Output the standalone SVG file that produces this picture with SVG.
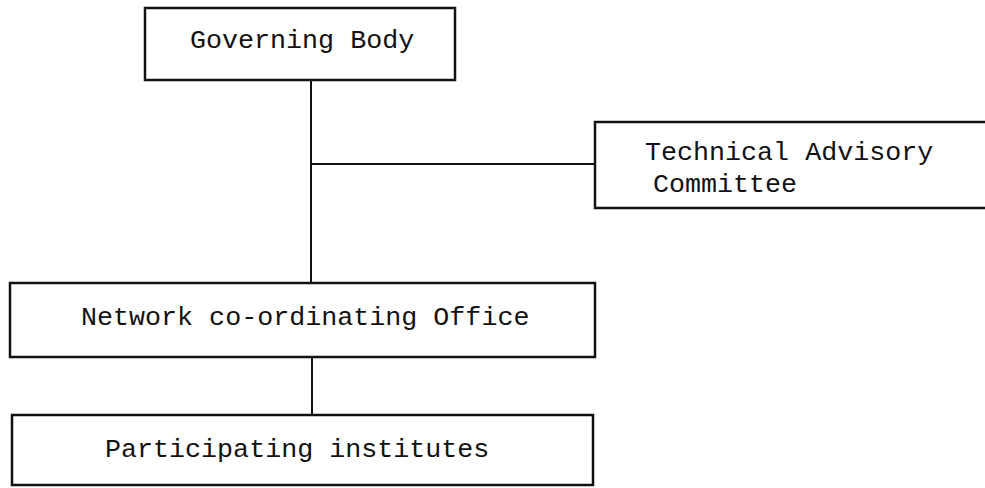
<svg xmlns="http://www.w3.org/2000/svg" width="985" height="488" viewBox="0 0 985 488">
<style>
.box{fill:#fff;stroke:#111;stroke-width:2.5}
.con{stroke:#111;stroke-width:2;fill:none}
.lbl{font-family:"Liberation Mono","DejaVu Sans Mono",monospace;font-size:26.7px;fill:#111}
</style>
<rect width="985" height="488" fill="#fff"/>
<g id="connectors">
<line class="con" x1="311" y1="80" x2="311" y2="283"/>
<line class="con" x1="311" y1="164" x2="595" y2="164"/>
<line class="con" x1="312" y1="357" x2="312" y2="415"/>
</g>
<g id="governing-body">
<rect class="box" x="145" y="8" width="310" height="72"/>
<text class="lbl" x="190" y="48">Governing Body</text>
</g>
<g id="technical-advisory-committee">
<rect class="box" x="595" y="122" width="400" height="86"/>
<text class="lbl" x="645" y="160">Technical Advisory</text>
<text class="lbl" x="653" y="192">Committee</text>
</g>
<g id="network-office">
<rect class="box" x="10" y="283" width="585" height="74"/>
<text class="lbl" x="81" y="325">Network co-ordinating Office</text>
</g>
<g id="participating-institutes">
<rect class="box" x="12" y="415" width="581" height="70"/>
<text class="lbl" x="105" y="457">Participating institutes</text>
</g>
</svg>
